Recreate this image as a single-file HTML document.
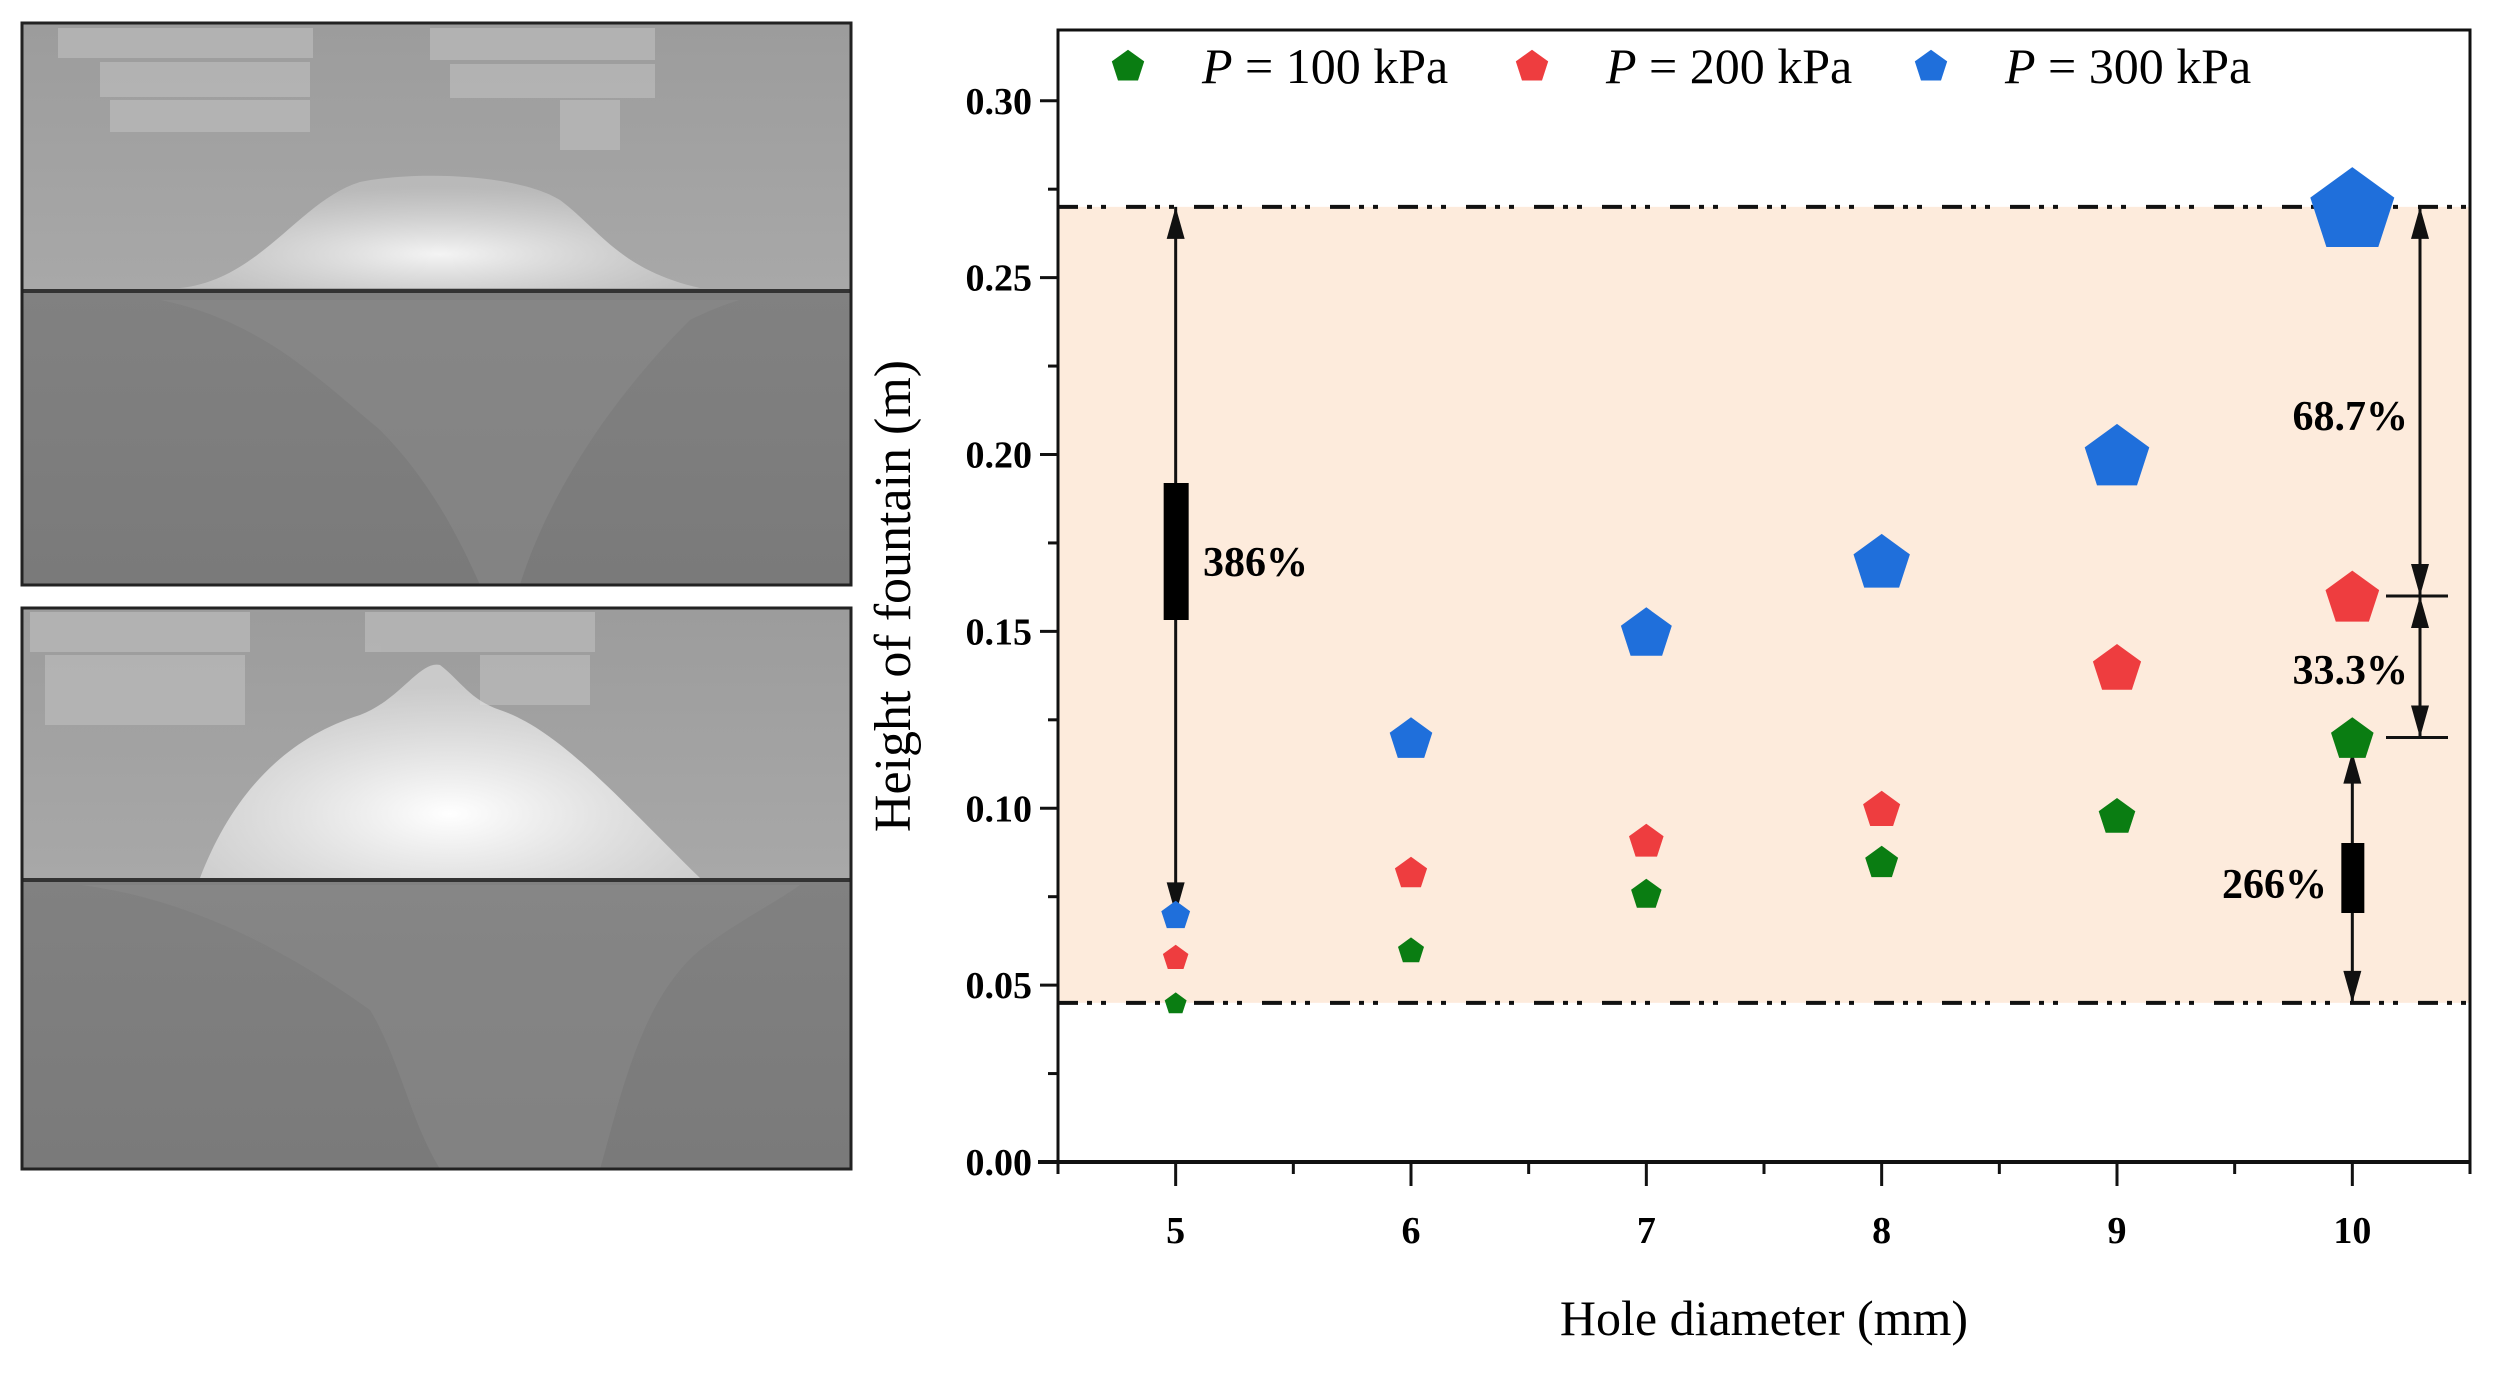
<!DOCTYPE html>
<html><head><meta charset="utf-8"><style>
html,body{margin:0;padding:0;background:#fff;}
svg{display:block;}
</style></head><body>
<svg id="fig" width="2500" height="1373" viewBox="0 0 2500 1373" xmlns="http://www.w3.org/2000/svg">
<defs>
<linearGradient id="airA" x1="0" y1="0" x2="0" y2="1"><stop offset="0" stop-color="#9c9c9c"/><stop offset="1" stop-color="#a8a8a8"/></linearGradient>
<linearGradient id="watA" x1="0" y1="0" x2="0" y2="1"><stop offset="0" stop-color="#818181"/><stop offset="1" stop-color="#7a7a7a"/></linearGradient>
<radialGradient id="splash1" cx="0.5" cy="0.7" r="0.6"><stop offset="0" stop-color="#f4f4f4"/><stop offset="1" stop-color="#c8c8c8" stop-opacity="0.6"/></radialGradient>
<radialGradient id="splash2" cx="0.5" cy="0.7" r="0.6"><stop offset="0" stop-color="#ffffff"/><stop offset="1" stop-color="#dcdcdc" stop-opacity="0.7"/></radialGradient>
</defs>
<g>
<rect x="22" y="23" width="829" height="268" fill="url(#airA)"/>
<rect x="22" y="291" width="829" height="294" fill="url(#watA)"/>
<g fill="#b8b8b8" opacity="0.8"><rect x="58" y="28" width="255" height="30"/><rect x="100" y="62" width="210" height="35"/><rect x="110" y="100" width="200" height="32"/><rect x="430" y="28" width="225" height="32"/><rect x="450" y="64" width="205" height="34"/><rect x="560" y="100" width="60" height="50"/></g>
<path d="M180,288 C260,280 300,200 360,182 C420,170 520,175 560,200 C600,230 620,270 700,288 Z" fill="url(#splash1)"/>
<path d="M160,300 C260,320 320,380 380,430 C430,480 460,540 480,585 L520,585 C540,520 590,420 690,320 C720,305 740,300 740,300 Z" fill="#8c8c8c" opacity="0.5"/>
<rect x="22" y="289" width="829" height="4" fill="#333"/>
<rect x="22" y="23" width="829" height="562" fill="none" stroke="#222" stroke-width="3"/>
</g>
<g>
<rect x="22" y="608" width="829" height="272" fill="url(#airA)"/>
<rect x="22" y="880" width="829" height="289" fill="url(#watA)"/>
<g fill="#b8b8b8" opacity="0.8"><rect x="30" y="612" width="220" height="40"/><rect x="45" y="655" width="200" height="70"/><rect x="365" y="612" width="230" height="40"/><rect x="480" y="655" width="110" height="50"/></g>
<path d="M200,878 C230,800 280,740 360,715 C400,700 420,660 440,665 C460,680 470,700 500,710 C560,730 620,800 700,878 Z" fill="url(#splash2)"/>
<path d="M80,885 C200,900 300,960 370,1010 C400,1060 410,1120 440,1169 L600,1169 C620,1100 640,1000 700,950 C740,920 780,900 800,885 Z" fill="#8c8c8c" opacity="0.45"/>
<rect x="22" y="878" width="829" height="4" fill="#333"/>
<rect x="22" y="608" width="829" height="561" fill="none" stroke="#222" stroke-width="3"/>
</g>
<g id="chart"></g>
</svg>
<script>
const categories = [5, 6, 7, 8, 9, 10];
const seriesNames = ["100 kPa", "200 kPa", "300 kPa"];
const green100 = [0.045, 0.060, 0.076, 0.085, 0.098, 0.120];
const red200 = [0.058, 0.082, 0.091, 0.100, 0.140, 0.160];
const blue300 = [0.070, 0.120, 0.150, 0.170, 0.200, 0.270];
const yTickLabels = ["0.00", "0.05", "0.10", "0.15", "0.20", "0.25", "0.30"];
const yTickValues = [0, 0.05, 0.10, 0.15, 0.20, 0.25, 0.30];
const xTickLabels = ["5", "6", "7", "8", "9", "10"];
const bandLow = 0.045, bandHigh = 0.27;
const pctLabels = ["386%", "266%", "68.7%", "33.3%"];

const NS = "http://www.w3.org/2000/svg";
const L = 1058, R = 2470, T = 30, B = 1162;
const X0 = 4.5, X1 = 10.5, Y0 = 0, Y1 = 0.32;
const xs = v => L + (v - X0) / (X1 - X0) * (R - L);
const ys = v => B - (v - Y0) / (Y1 - Y0) * (B - T);
const g = document.getElementById('chart');
function mk(tag, attrs, parent) {
  const e = document.createElementNS(NS, tag);
  for (const k in attrs) e.setAttribute(k, attrs[k]);
  (parent || g).appendChild(e);
  return e;
}
function pent(cx, cy, s) {
  const r = s / 2, pts = [];
  for (let i = 0; i < 5; i++) {
    const a = -Math.PI / 2 + i * 2 * Math.PI / 5;
    pts.push((cx + r * Math.cos(a)).toFixed(1) + ',' + (cy + r * Math.sin(a) + r * 0.1).toFixed(1));
  }
  return pts.join(' ');
}
const serif = '"Liberation Serif", serif';

const band = mk('rect', {x: L, y: ys(bandHigh), width: R - L, height: ys(bandLow) - ys(bandHigh), fill: '#fdebdc'});


[bandLow, bandHigh].forEach((v, i) => {
  const ln = mk('line', {x1: L, x2: R, y1: ys(v), y2: ys(v), stroke: '#111', 'stroke-width': 4, 'stroke-dasharray': '20 9 5 9 5 20'});
  
  
});

const frame = mk('rect', {x: L, y: T, width: R - L, height: B - T, fill: 'none', stroke: '#111', 'stroke-width': 3});


mk('line', {x1: L - 20, x2: R, y1: B, y2: B, stroke: '#111', 'stroke-width': 4});

yTickValues.forEach((v, i) => {
  mk('line', {x1: L - 18, x2: L, y1: ys(v), y2: ys(v), stroke: '#111', 'stroke-width': 3});
  if (v + 0.025 < Y1) mk('line', {x1: L - 10, x2: L, y1: ys(v + 0.025), y2: ys(v + 0.025), stroke: '#111', 'stroke-width': 3});
  const t = mk('text', {x: L - 26, y: ys(v) + 13, 'text-anchor': 'end', 'font-family': serif, 'font-weight': 'bold', 'font-size': 38});
  t.textContent = yTickLabels[i];
  
  
});
categories.forEach((c, i) => {
  mk('line', {x1: xs(c), x2: xs(c), y1: B, y2: B + 24, stroke: '#111', 'stroke-width': 3});
  mk('line', {x1: xs(c - 0.5), x2: xs(c - 0.5), y1: B, y2: B + 12, stroke: '#111', 'stroke-width': 3});
  const t = mk('text', {x: xs(c), y: 1243, 'text-anchor': 'middle', 'font-family': serif, 'font-weight': 'bold', 'font-size': 38});
  t.textContent = xTickLabels[i];
  
  
});
mk('line', {x1: xs(10.5), x2: xs(10.5), y1: B, y2: B + 12, stroke: '#111', 'stroke-width': 3});

const xt = mk('text', {x: (L + R) / 2, y: 1335, 'text-anchor': 'middle', 'font-family': serif, 'font-size': 50});
xt.textContent = 'Hole diameter (mm)';


const yt = mk('text', {x: 0, y: 0, 'text-anchor': 'middle', 'font-family': serif, 'font-size': 52, transform: 'translate(910,596) rotate(-90)'});
yt.textContent = 'Height of fountain (m)';



function arrowHead(x, y, dir) {
  mk('polygon', {points: `${x},${y} ${x - 9},${y - dir * 32} ${x + 9},${y - dir * 32}`, fill: '#111'});
}
function vArrow(x, v1, v2, name) {
  const l = mk('line', {x1: x, x2: x, y1: ys(v1), y2: ys(v2), stroke: '#111', 'stroke-width': 3});
  
  
  arrowHead(x, ys(v1), -1);
  arrowHead(x, ys(v2), 1);
}
vArrow(xs(5), bandHigh, blue300[0], 'arrow-386');
mk('rect', {x: xs(5) - 12, y: 483, width: 25, height: 137, fill: '#000'});
let t = mk('text', {x: 1203, y: 576, 'font-family': serif, 'font-weight': 'bold', 'font-size': 42});
t.textContent = pctLabels[0];  

vArrow(xs(10), green100[5] - 0.004, bandLow, 'arrow-266');
mk('rect', {x: xs(10) - 11, y: 843, width: 23, height: 70, fill: '#000'});
t = mk('text', {x: 2327, y: 898, 'text-anchor': 'end', 'font-family': serif, 'font-weight': 'bold', 'font-size': 42});
t.textContent = pctLabels[1];  

const ax = 2420;
vArrow(ax, bandHigh, red200[5], 'arrow-68-7');
vArrow(ax, red200[5], green100[5], 'arrow-33-3');
[red200[5], green100[5]].forEach(v => mk('line', {x1: 2386, x2: 2448, y1: ys(v), y2: ys(v), stroke: '#111', 'stroke-width': 3}));
t = mk('text', {x: 2408, y: 430, 'text-anchor': 'end', 'font-family': serif, 'font-weight': 'bold', 'font-size': 42});
t.textContent = pctLabels[2];  
t = mk('text', {x: 2408, y: 684, 'text-anchor': 'end', 'font-family': serif, 'font-weight': 'bold', 'font-size': 42});
t.textContent = pctLabels[3];  

const series = [[green100, '#0a7d12', 'green'], [red200, '#ee3d3f', 'red'], [blue300, '#1f6fdb', 'blue']];
series.forEach(([vals, col, nm]) => {
  vals.forEach((v, i) => {
    const s = Math.max(18, 290 * v + 10);
    const p = mk('polygon', {points: pent(xs(categories[i]), ys(v), s), fill: col});
    
    
  });
});

const lx = [1128, 1532, 1931];
series.forEach(([vals, col, nm], i) => {
  const p = mk('polygon', {points: pent(lx[i], 65, 34), fill: col});
  
  
  const tx = mk('text', {x: lx[i] + 74, y: 83, 'font-family': serif, 'font-size': 50});
  
  
  const ts = mk('tspan', {'font-style': 'italic'}, tx); ts.textContent = 'P';
  const ts2 = mk('tspan', {}, tx); ts2.textContent = ' = ' + seriesNames[i];
});
</script>
</body></html>
